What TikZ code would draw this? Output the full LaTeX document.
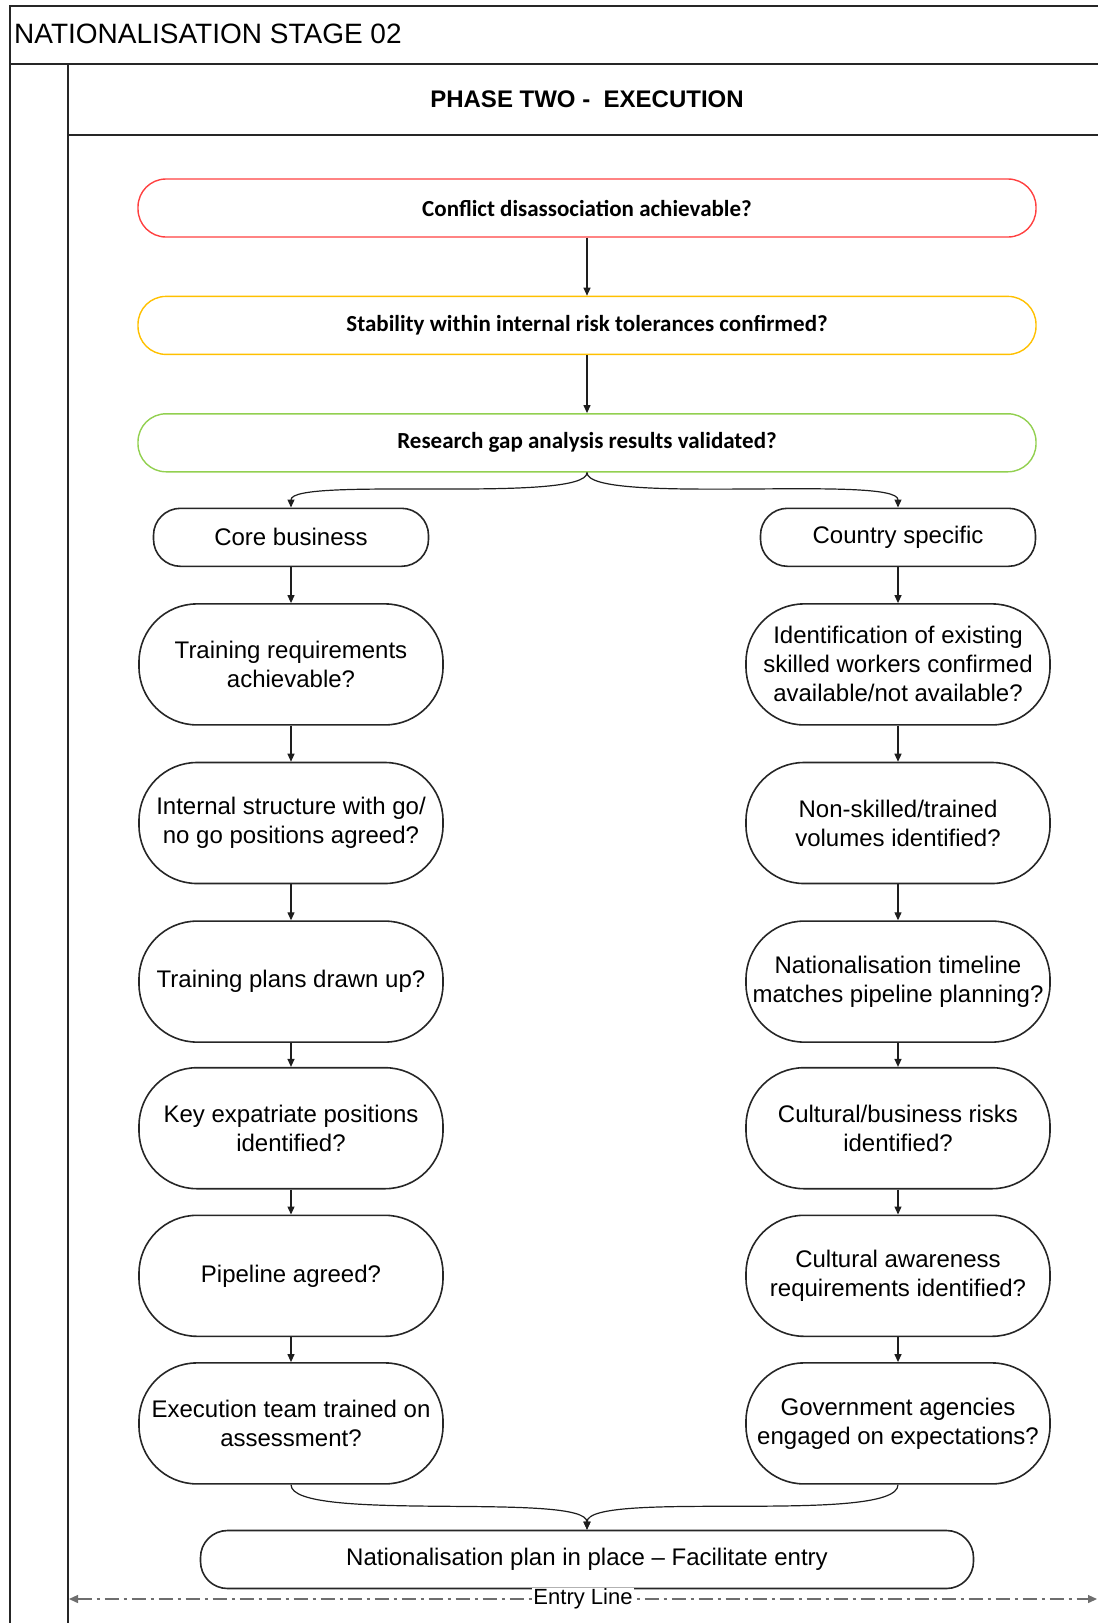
\documentclass[tikz,border=0pt]{standalone}
\usepackage{fontspec}
\setmainfont{Liberation Sans}
\newfontfamily\gatefont{Carlito}
\usepackage{xcolor}
\definecolor{conflictred}{HTML}{FF4040}
\definecolor{stabilityamber}{HTML}{FFC000}
\definecolor{researchgreen}{HTML}{92D050}
\definecolor{linkgray}{HTML}{1E1E1E}
\definecolor{entrygray}{HTML}{6E6E6E}
\usetikzlibrary{
  positioning,
  arrows.meta
}

\begin{document}
\begin{tikzpicture}[
  x=1pt, y=1pt,
  node distance=58pt and 0pt,
  every node/.style={
    font=\fontsize{24}{29}\selectfont,
    align=center,
    inner sep=2pt
  },
  gatebox/.style={
    draw,
    line width=1.4pt,
    rounded corners=28pt,
    minimum width=898pt,
    minimum height=58pt,
    font=\gatefont\bfseries\fontsize{23}{28}\selectfont
  },
  pillbox/.style={
    draw=black!85,
    line width=1.6pt,
    rounded corners=27pt,
    minimum width=275pt,
    minimum height=58pt
  },
  stepbox/.style={
    draw=black!85,
    line width=1.6pt,
    rounded corners=58pt,
    minimum width=304pt,
    minimum height=121pt
  },
  frameline/.style={
    line width=1.4pt,
    color=black!85
  },
  arr/.style={
    -{Triangle[length=8pt,width=7pt]},
    line width=1.2pt,
    color=linkgray
  },
  entryline/.style={
    {Triangle[length=9pt,width=8pt]}-{Triangle[length=9pt,width=8pt]},
    line width=1.3pt,
    color=entrygray,
    dash pattern=on 14pt off 5pt on 3pt off 5pt
  },
  entrylabel/.style={
    font=\fontsize{22}{26}\selectfont,
    text=black,
    fill=white,
    inner sep=1pt
  }
]

\useasboundingbox (0,0) rectangle (1098,-1623);
\clip (0,0) rectangle (1098,-1623);

% Pool frame
\draw[frameline] (10,-1640) -- (10,-6) -- (1110,-6);
\draw[frameline] (10,-64) -- (1110,-64);
\draw[frameline] (68,-64) -- (68,-1640);
\draw[frameline] (68,-135) -- (1110,-135);

\node[anchor=west, font=\fontsize{28}{32}\selectfont] (stagetitle) at (12,-34)
  {NATIONALISATION STAGE 02};
\node[font=\bfseries\fontsize{24}{28}\selectfont] (phasetitle) at (587,-99)
  {PHASE TWO -~ EXECUTION};

% Gate questions
\node[gatebox, draw=conflictred] (conflict) at (587,-208)
  {Conflict disassociation achievable?};
\node[gatebox, draw=stabilityamber, below=of conflict] (stability)
  {Stability within internal risk tolerances confirmed?};
\node[gatebox, draw=researchgreen, below=of stability] (research)
  {Research gap analysis results validated?};

% Branch heads
\node[pillbox, below=35pt of research, xshift=-296pt] (core) {Core business};
\node[pillbox, below=35pt of research, xshift=311pt] (country) {Country specific};

% Core business column
\node[stepbox, below=36pt of core] (trainreq)
  {Training requirements\\achievable?};
\node[stepbox, below=36pt of trainreq] (structure)
  {Internal structure with go/\\no go positions agreed?};
\node[stepbox, below=36pt of structure] (plans)
  {Training plans drawn up?};
\node[stepbox, below=24pt of plans] (expat)
  {Key expatriate positions\\identified?};
\node[stepbox, below=25pt of expat] (pipeline)
  {Pipeline agreed?};
\node[stepbox, below=25pt of pipeline] (execteam)
  {Execution team trained on\\assessment?};

% Country specific column
\node[stepbox, below=36pt of country] (identify)
  {Identification of existing\\skilled workers confirmed\\available/not available?};
\node[stepbox, below=36pt of identify] (nonskilled)
  {Non-skilled/trained\\volumes identified?};
\node[stepbox, below=36pt of nonskilled] (timeline)
  {Nationalisation timeline\\matches pipeline planning?};
\node[stepbox, below=24pt of timeline] (risks)
  {Cultural/business risks\\identified?};
\node[stepbox, below=25pt of risks] (awareness)
  {Cultural awareness\\requirements identified?};
\node[stepbox, below=25pt of awareness] (agencies)
  {Government agencies\\engaged on expectations?};

% Result
\node[pillbox, minimum width=773pt, below=45pt of execteam, xshift=296pt] (entryplan)
  {Nationalisation plan in place -- Facilitate entry};

% Arrows
\draw[arr] (conflict)  -- (stability);
\draw[arr] (stability) -- (research);
\draw[arr] (research.south) to[out=-90, in=90, looseness=0.27] (core.north);
\draw[arr] (research.south) to[out=-90, in=90, looseness=0.27] (country.north);
\draw[arr] (core)       -- (trainreq);
\draw[arr] (trainreq)   -- (structure);
\draw[arr] (structure)  -- (plans);
\draw[arr] (plans)      -- (expat);
\draw[arr] (expat)      -- (pipeline);
\draw[arr] (pipeline)   -- (execteam);
\draw[arr] (country)    -- (identify);
\draw[arr] (identify)   -- (nonskilled);
\draw[arr] (nonskilled) -- (timeline);
\draw[arr] (timeline)   -- (risks);
\draw[arr] (risks)      -- (awareness);
\draw[arr] (awareness)  -- (agencies);
\draw[arr] (execteam.south) to[out=-90, in=90, looseness=0.33] (entryplan.north);
\draw[arr] (agencies.south) to[out=-90, in=90, looseness=0.33] (entryplan.north);

% Entry line
\coordinate (entryleft) at (69,-1599);
\coordinate (entryright) at (1097,-1599);
\draw[entryline] (entryleft) -- node[entrylabel] {Entry Line} (entryright);

\end{tikzpicture}
\end{document}
